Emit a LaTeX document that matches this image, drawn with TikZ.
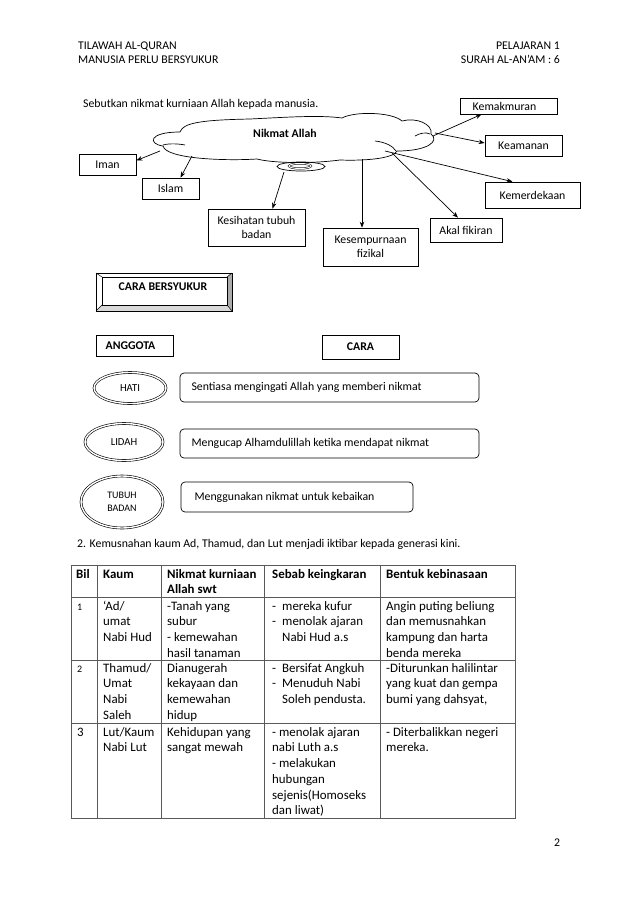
\documentclass[tikz,border=0pt]{standalone}
\usepackage{fontspec}
\setmainfont{Carlito}
\usetikzlibrary{calc,positioning,shapes.geometric,arrows.meta}

\newcommand{\txt}{\fontsize{11.8}{14}\selectfont}
\newcommand{\tabtxt}{\fontsize{12.9}{15.7}\selectfont}
\newcommand{\smalltxt}{\fontsize{10.7}{13}\selectfont}

\tikzset{
  box/.style={draw, line width=0.7pt, inner sep=0pt, font=\txt, align=center},
  roundbox/.style={draw, line width=0.7pt, rounded corners=4pt, inner sep=0pt},
  oval/.style={draw, ellipse, double, double distance=1.4pt, line width=0.6pt, inner sep=0pt, font=\smalltxt, align=left},
  arr/.style={-{Stealth[length=6pt,width=4.5pt]}, line width=0.7pt},
  cell/.style={anchor=north west, align=left, inner sep=0pt, font=\tabtxt},
  rule/.style={draw=gray!70!black, line width=0.8pt},
}

\begin{document}
\begin{tikzpicture}[x=1pt,y=-1pt]
\fill[white] (0,0) rectangle (638,903);
\useasboundingbox (0,0) rectangle (638,903);
% heading
\node[anchor=base west, inner sep=0pt, font=\txt] (tilawah) at (78,49) {TILAWAH AL-QURAN};
\node[anchor=base west, inner sep=0pt, font=\txt] (manusia) at (78,63) {MANUSIA PERLU BERSYUKUR};
\node[anchor=base east, inner sep=0pt, font=\txt] (pelajaran) at (560,49) {PELAJARAN 1};
\node[anchor=base east, inner sep=0pt, font=\txt] (surah) at (560,63) {SURAH AL-AN’AM : 6};
\node[anchor=base west, inner sep=0pt, font=\txt] (soalan1) at (83,107) {Sebutkan nikmat kurniaan Allah kepada manusia.};
% cloud
\draw[line width=0.7pt] (180,132) .. controls (183,123) and (200,120) .. (250,119)
  .. controls (290,117) and (320,115) .. (342,118)
  .. controls (355,111) and (392,112) .. (402,121)
  .. controls (416,117) and (433,124) .. (431,134)
  .. controls (440,141) and (428,151) .. (397,151)
  .. controls (394,158) and (368,161) .. (340,160)
  .. controls (310,164) and (272,163) .. (257,159)
  .. controls (225,161) and (166,159) .. (163,146)
  .. controls (148,144) and (148,132) .. cycle;
\draw[line width=0.7pt] (163,145) .. controls (170,143) and (180,144) .. (185,145);
\draw[line width=0.7pt] (375,141) .. controls (385,142) and (393,146) .. (396,151);
\draw[line width=0.7pt] (415,136) .. controls (420,133) and (426,132) .. (430,134);
\draw[line width=0.7pt] (301,166.5) ellipse [x radius=24, y radius=4.5];
\draw[line width=0.5pt, double, double distance=1pt] (300,166) ellipse [x radius=11, y radius=2.5];
\node[font=\txt\bfseries] (nikmat) at (285,133) {Nikmat Allah};
% boxes
\node[box, minimum width=97, minimum height=16] (kemakmuran) at (508.5,106) {\hspace*{-8pt}Kemakmuran};
\node[box, minimum width=77, minimum height=21] (keamanan) at (523.5,145.5) {Keamanan};
\node[box, minimum width=57, minimum height=21] (iman) at (107.5,164.5) {Iman};
\node[box, minimum width=57, minimum height=21] (islam) at (170.5,188.5) {Islam};
\node[box, minimum width=97, minimum height=37] (kesihatan) at (256.5,227.5) {Kesihatan tubuh\\badan};
\node[box, minimum width=95, minimum height=38] (kesempurnaan) at (370.5,247) {Kesempurnaan\\fizikal};
\node[box, minimum width=72, minimum height=24] (akal) at (466,230) {Akal fikiran};
\node[box, minimum width=95, minimum height=26] (kemerdekaan) at (532.5,195) {Kemerdekaan};
% arrows
\coordinate (c-iman) at (160,151);
\coordinate (c-islam) at (192,156);
\coordinate (c-kesihatan) at (284,172);
\coordinate (c-kesempurnaan) at (362,159);
\coordinate (c-akal) at (392,153);
\coordinate (c-kemerdekaan) at (385,151);
\coordinate (c-keamanan) at (435,133);
\coordinate (c-kemakmuran) at (433,136);
\draw[arr] (c-iman) -- ($(iman.east)+(0,-4)$);
\draw[arr] (c-islam) -- ($(islam.north)+(10,0)$);
\draw[arr] (c-kesihatan) -- ($(kesihatan.north)+(16,0)$);
\draw[arr] (c-kesempurnaan) -- (c-kesempurnaan |- kesempurnaan.north);
\draw[arr] (c-akal) -- ($(akal.north)+(-8,0)$);
\draw[arr] (c-kemerdekaan) -- ($(kemerdekaan.north)+(-20,0)$);
\draw[arr] (c-keamanan) -- ($(keamanan.west)+(0,-2.5)$);
\draw[arr] (c-kemakmuran) -- ($(kemakmuran.south)+(-27,0)$);
% cara bersyukur
\fill[gray!65] (227,277) -- (232,273) -- (232,311) -- (227,305) -- cycle;
\fill[gray!30] (102,305) -- (227,305) -- (232,311) -- (96,311) -- cycle;
\draw[line width=0.7pt] (96,273) rectangle (232,311);
\draw[line width=0.7pt] (102,277) rectangle (227,305);
\draw[line width=0.5pt] (96,273) -- (102,277) (232,273) -- (227,277) (232,311) -- (227,305) (96,311) -- (102,305);
\node[font=\txt\bfseries] (bersyukur) at (163,287) {CARA BERSYUKUR};
\node[box, minimum width=77, minimum height=21, font=\txt\bfseries] (anggota) at (134.5,345.5) {\hspace*{-8pt}ANGGOTA};
\node[box, minimum width=77, minimum height=24, font=\txt\bfseries] (cara) at (360.5,347) {CARA};
% anggota and cara
\node[oval, minimum width=72, minimum height=31] (hati) at (130,388) {HATI};
\node[oval, minimum width=78, minimum height=37] (lidah) at (124,442) {LIDAH};
\node[oval, minimum width=82, minimum height=52, font=\fontsize{10}{12.5}\selectfont] (tubuh) at (122,502) {TUBUH\\BADAN};
\node[roundbox, minimum width=299, minimum height=29] (cara1) at (329.5,387.5) {};
\node[roundbox, minimum width=299, minimum height=29] (cara2) at (329.5,443.5) {};
\node[roundbox, minimum width=232, minimum height=30] (cara3) at (297,497) {};
\node[anchor=west, font=\txt] at (188,387.5) {Sentiasa mengingati Allah yang memberi nikmat};
\node[anchor=west, font=\txt] at (188,443.5) {Mengucap Alhamdulillah ketika mendapat nikmat};
\node[anchor=west, font=\txt] at (191,497) {Menggunakan nikmat untuk kebaikan};
% question 2
\node[anchor=base west, inner sep=0pt, font=\txt] (soalan2) at (77,547) {2. Kemusnahan kaum Ad, Thamud, dan Lut menjadi iktibar kepada generasi kini.};
% table rules
\draw[rule] (71,565) rectangle (515,818);
\draw[rule] (71,597) -- (515,597);
\draw[rule] (71,660) -- (515,660);
\draw[rule] (71,723) -- (515,723);
\draw[rule] (97,565) -- (97,818);
\draw[rule] (161,565) -- (161,818);
\draw[rule] (264,565) -- (264,818);
\draw[rule] (380,565) -- (380,818);
% table head
\node[cell, font=\tabtxt\bfseries] (hbil) at (76,567) {\strut Bil};
\node[cell, font=\tabtxt\bfseries] (hkaum) at (103,567) {\strut Kaum};
\node[cell, font=\tabtxt\bfseries] (hnikmat) at (167,567) {\strut Nikmat kurniaan\\Allah swt};
\node[cell, font=\tabtxt\bfseries] (hsebab) at (272,567) {\strut Sebab keingkaran};
\node[cell, font=\tabtxt\bfseries] (hbentuk) at (386,567) {\strut Bentuk kebinasaan};
% row 1
\node[cell] (bil1) at (77,599) {\strut{\fontsize{10}{12}\selectfont 1}};
\node[cell] (kaum1) at (103,599) {\strut ‘Ad/\\umat\\Nabi Hud};
\node[cell] (nikmat1) at (167,599) {\strut -Tanah yang\\subur\\- kemewahan\\hasil tanaman};
\node[cell] (dash1) at (272,599) {\strut -\\-};
\node[cell] (sebab1) at (282,599) {\strut mereka kufur\\menolak ajaran\\Nabi Hud a.s};
\node[cell] (bentuk1) at (386,599) {\strut Angin puting beliung\\dan memusnahkan\\kampung dan harta\\benda mereka};
% row 2
\node[cell] (bil2) at (77,661) {\strut{\fontsize{10}{12}\selectfont 2}};
\node[cell] (kaum2) at (103,661) {\strut Thamud/\\Umat\\Nabi\\Saleh};
\node[cell] (nikmat2) at (167,661) {\strut Dianugerah\\kekayaan dan\\kemewahan\\hidup};
\node[cell] (dash2) at (272,661) {\strut -\\-};
\node[cell] (sebab2) at (282,661) {\strut Bersifat Angkuh\\Menuduh Nabi\\Soleh pendusta.};
\node[cell] (bentuk2) at (386,661) {\strut -Diturunkan halilintar\\yang kuat dan gempa\\bumi yang dahsyat,};
% row 3
\node[cell] (bil3) at (77,725) {\strut 3};
\node[cell] (kaum3) at (103,725) {\strut Lut/Kaum\\Nabi Lut};
\node[cell] (nikmat3) at (167,725) {\strut Kehidupan yang\\sangat mewah};
\node[cell] (sebab3) at (272,725) {\strut - menolak ajaran\\nabi Luth a.s\\- melakukan\\hubungan\\sejenis(Homoseks\\dan liwat)};
\node[cell] (bentuk3) at (386,725) {\strut - Diterbalikkan negeri\\mereka.};
% page number
\node[font=\txt] (halaman) at (557,843) {2};
\end{tikzpicture}
\end{document}
